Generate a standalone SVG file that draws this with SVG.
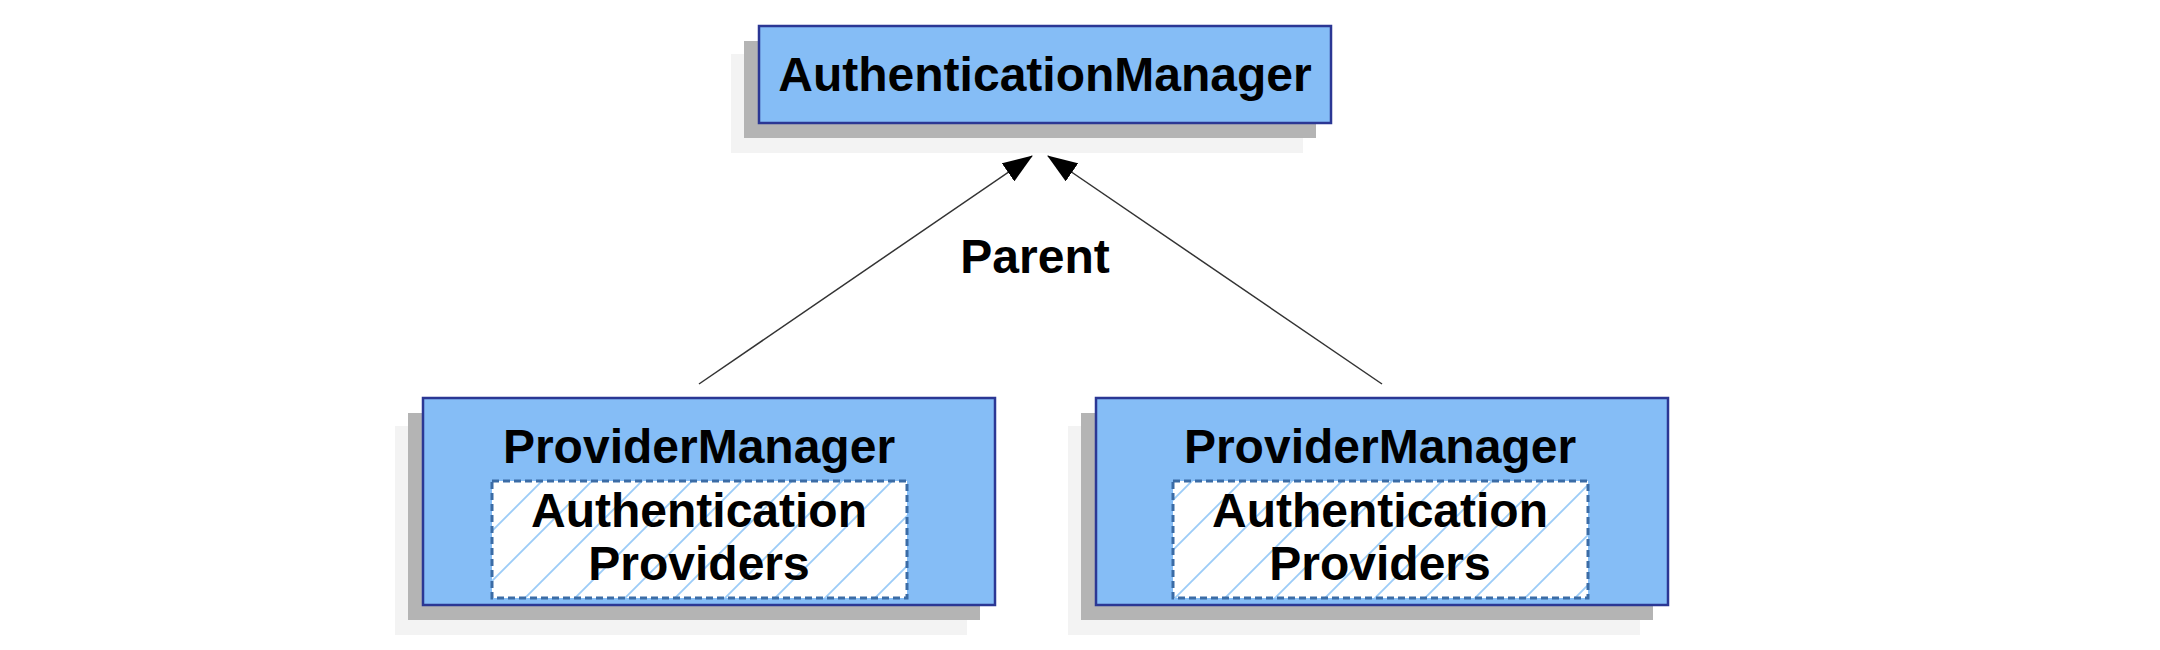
<svg xmlns="http://www.w3.org/2000/svg" width="2160" height="650" viewBox="0 0 2160 650">
  <style>
    .halo { fill: #f3f3f3; }
    .shadow { fill: #b4b4b4; }
    .box { fill: #85bdf6; stroke: #2b3794; stroke-width: 2.5; }
    .inner { fill: url(#hatch); stroke: #3b6ca6; stroke-width: 3; stroke-dasharray: 7 4; }
    .label { font-family: "Liberation Sans", Arial, sans-serif; font-weight: bold; font-size: 48px; fill: #000; text-anchor: middle; }
    .conn { stroke: #333333; stroke-width: 1.5; fill: none; }
  </style>
  <defs>
    <pattern id="hatch" patternUnits="userSpaceOnUse" x="492" y="481" width="50" height="50">
      <rect width="50" height="50" fill="#ffffff"/>
      <path d="M-5,55 L55,-5 M-5,5 L5,-5 M45,55 L55,45" stroke="#9cccf8" stroke-width="1.8"/>
    </pattern>
    <marker id="arrow" viewBox="0 0 30 22" refX="29" refY="11" markerWidth="30" markerHeight="22" markerUnits="userSpaceOnUse" orient="auto">
      <path d="M0,0 L30,11 L0,22 Z" fill="#000"/>
    </marker>
  </defs>

  <g id="connectors">
    <line class="conn" x1="699" y1="384" x2="1032" y2="156" marker-end="url(#arrow)"/>
    <line class="conn" x1="1382" y1="384" x2="1048" y2="156" marker-end="url(#arrow)"/>
    <text id="parent-label" class="label" x="1035" y="273">Parent</text>
  </g>

  <g id="authentication-manager">
    <rect class="halo" x="731" y="54" width="572" height="99"/>
    <rect class="shadow" x="744" y="41" width="572" height="97"/>
    <rect class="box" x="759" y="26" width="572" height="97"/>
    <text class="label" x="1045" y="91">AuthenticationManager</text>
  </g>

  <g id="provider-manager-left">
    <rect class="halo" x="395" y="426" width="572" height="209"/>
    <rect class="shadow" x="408" y="413" width="572" height="207"/>
    <rect class="box" x="423" y="398" width="572" height="207"/>
    <text class="label" x="699" y="463">ProviderManager</text>
    <g id="providers-left">
      <rect class="inner" x="492" y="481" width="415" height="117"/>
      <text class="label" x="699" y="527">Authentication</text>
      <text class="label" x="699" y="580">Providers</text>
    </g>
  </g>

  <g id="provider-manager-right">
    <rect class="halo" x="1068" y="426" width="572" height="209"/>
    <rect class="shadow" x="1081" y="413" width="572" height="207"/>
    <rect class="box" x="1096" y="398" width="572" height="207"/>
    <text class="label" x="1380" y="463">ProviderManager</text>
    <g id="providers-right">
      <rect class="inner" x="1173" y="481" width="415" height="117"/>
      <text class="label" x="1380" y="527">Authentication</text>
      <text class="label" x="1380" y="580">Providers</text>
    </g>
  </g>
</svg>
